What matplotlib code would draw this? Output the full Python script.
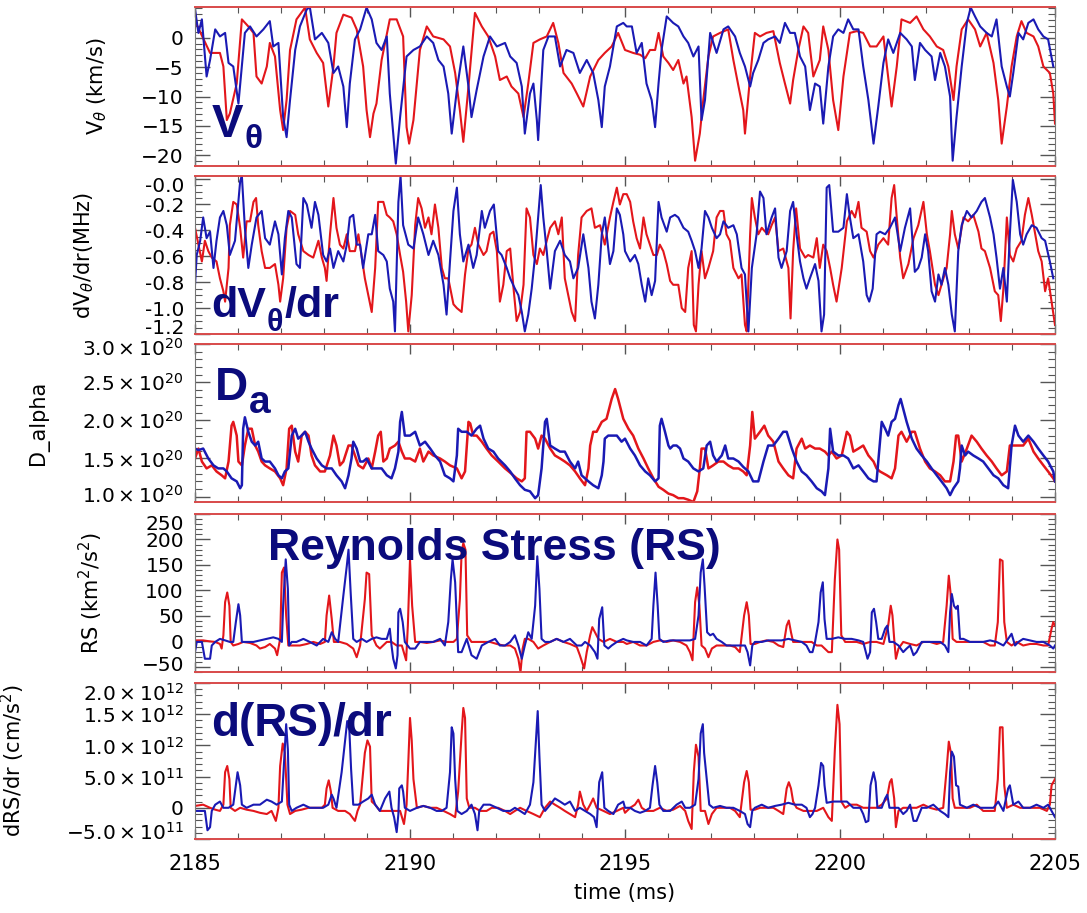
import numpy as np
import matplotlib.pyplot as plt
from matplotlib.ticker import MultipleLocator, FixedLocator, FixedFormatter
from matplotlib.transforms import ScaledTranslation

RED = '#e3161b'
BLUE = '#1a1ab4'
NAVY = '#0b0b7c'

# ---------- poloidal velocity V_theta (km/s) : (time ms, value) ----------
vth_red = [
    (2185.00, 4.2), (2185.04, 2.2), (2185.35, -2.6), (2185.58, -2.6), (2185.66, -4.9), (2185.74, -14.0),
    (2185.81, -12.9), (2185.97, -7.8), (2186.09, 3.1), (2186.24, 1.9), (2186.36, 0.8), (2186.43, -6.6),
    (2186.55, -7.8), (2186.67, -4.9), (2186.74, -0.9), (2186.86, -3.2), (2186.98, -12.3), (2187.05, -15.7),
    (2187.13, -10.6), (2187.21, -2.1), (2187.36, 3.1), (2187.56, 5.1), (2187.67, -0.3), (2187.83, -2.6),
    (2187.98, -4.3), (2188.10, -11.7), (2188.22, -4.9), (2188.29, 0.8), (2188.45, 3.9), (2188.64, 3.4),
    (2188.76, 1.4), (2188.91, -4.9), (2188.99, -12.3), (2189.07, -16.9), (2189.15, -12.9), (2189.22, -11.2),
    (2189.34, -3.8), (2189.53, 3.1), (2189.69, 3.1), (2189.84, 0.2), (2189.92, -15.2), (2189.98, -18.0),
    (2190.08, -14.0), (2190.23, -2.1), (2190.39, 1.9), (2190.54, 0.2), (2190.78, -0.3), (2190.93, -1.5),
    (2191.05, -6.0), (2191.16, -12.3), (2191.24, -17.7), (2191.36, -8.3), (2191.51, 4.2), (2191.67, 1.9),
    (2191.82, 0.2), (2191.98, -3.2), (2192.09, -7.2), (2192.25, -6.6), (2192.36, -8.3), (2192.52, -9.5),
    (2192.64, -13.5), (2192.75, -7.8), (2192.87, -0.9), (2193.02, -0.3), (2193.18, 0.2), (2193.33, 2.5),
    (2193.45, -0.9), (2193.57, -6.0), (2193.76, -7.8), (2193.88, -9.5), (2194.03, -11.7), (2194.19, -6.6),
    (2194.38, -3.8), (2194.53, -2.6), (2194.69, -1.5), (2194.84, 0.8), (2195.00, -2.1), (2195.19, -2.6),
    (2195.35, -2.9), (2195.47, -3.5), (2195.58, -2.1), (2195.70, -2.1), (2195.78, 0.8), (2195.89, -3.2),
    (2196.01, -4.3), (2196.12, -5.5), (2196.24, -3.8), (2196.36, -7.8), (2196.43, -6.6), (2196.55, -13.5),
    (2196.63, -20.9), (2196.74, -16.3), (2196.82, -10.6), (2196.94, -3.2), (2197.05, 0.2), (2197.21, 0.8),
    (2197.40, 1.4), (2197.52, -3.8), (2197.64, -8.3), (2197.75, -12.3), (2197.79, -16.3), (2197.91, -6.6),
    (2198.02, 0.8), (2198.14, 0.2), (2198.29, 0.8), (2198.45, 1.1), (2198.60, -4.3), (2198.72, -7.8),
    (2198.84, -11.2), (2198.91, -7.2), (2199.03, -2.1), (2199.15, 1.9), (2199.26, 0.8), (2199.38, -6.6),
    (2199.53, -3.8), (2199.61, 1.9), (2199.73, -2.1), (2199.84, -10.6), (2199.96, -15.7), (2200.08, -6.6),
    (2200.23, 0.8), (2200.39, 1.1), (2200.54, 0.8), (2200.70, -1.5), (2200.85, -1.5), (2201.01, 0.2),
    (2201.12, -6.6), (2201.20, -11.7), (2201.32, -4.9), (2201.43, 3.1), (2201.63, 2.5), (2201.78, 3.6),
    (2201.94, 1.4), (2202.09, 0.2), (2202.25, -1.5), (2202.40, -2.1), (2202.52, -4.9), (2202.64, -10.6),
    (2202.71, -4.9), (2202.83, 1.4), (2202.98, 3.1), (2203.14, 1.4), (2203.26, -1.5), (2203.41, 0.8),
    (2203.57, -4.3), (2203.68, -10.6), (2203.76, -18.0), (2203.88, -11.7), (2203.99, -4.9), (2204.11, 0.2),
    (2204.22, 2.8), (2204.34, 0.8), (2204.50, 0.2), (2204.61, -1.5), (2204.73, -4.9), (2204.88, -6.0),
    (2204.96, -9.5), (2205.00, -14.6),
]
vth_blue = [
    (2185.00, 4.8), (2185.08, 0.8), (2185.16, 3.1), (2185.27, -6.6), (2185.35, -3.8), (2185.47, 1.4),
    (2185.58, 0.2), (2185.70, 0.8), (2185.78, -4.3), (2185.89, -4.9), (2186.01, -11.2), (2186.16, 0.8),
    (2186.28, 1.9), (2186.43, 0.2), (2186.59, 1.4), (2186.74, 2.8), (2186.82, -1.5), (2186.94, -0.9),
    (2187.05, -13.5), (2187.13, -16.9), (2187.21, -10.6), (2187.33, -2.1), (2187.44, 1.9), (2187.60, 4.8),
    (2187.67, 5.2), (2187.79, -0.3), (2187.95, 0.8), (2188.10, -0.9), (2188.22, -6.0), (2188.33, -4.9),
    (2188.45, -8.3), (2188.53, -15.2), (2188.60, -7.8), (2188.72, -0.3), (2188.84, 1.4), (2188.99, 5.1),
    (2189.11, 3.1), (2189.22, -0.9), (2189.34, -2.1), (2189.46, 0.2), (2189.53, -9.5), (2189.61, -16.3),
    (2189.67, -21.4), (2189.77, -13.5), (2189.92, -3.2), (2190.08, -2.1), (2190.23, -1.5), (2190.39, 0.2),
    (2190.54, -0.9), (2190.66, -3.8), (2190.78, -4.9), (2190.89, -9.5), (2190.97, -16.3), (2191.09, -8.9),
    (2191.24, -1.5), (2191.36, -8.3), (2191.43, -13.5), (2191.55, -8.9), (2191.71, -3.2), (2191.86, 0.2),
    (2192.02, -1.5), (2192.21, -0.9), (2192.33, -3.2), (2192.48, -4.3), (2192.60, -8.3), (2192.67, -16.3),
    (2192.79, -9.5), (2192.87, -7.8), (2192.95, -14.0), (2192.98, -17.4), (2193.10, -2.1), (2193.22, 0.2),
    (2193.37, 0.2), (2193.49, -4.9), (2193.64, -2.1), (2193.80, -2.6), (2193.95, -6.0), (2194.11, -3.8),
    (2194.26, -6.0), (2194.38, -10.6), (2194.46, -15.2), (2194.53, -8.3), (2194.65, -4.9), (2194.81, 1.9),
    (2194.96, 2.5), (2195.04, 1.9), (2195.16, 1.9), (2195.27, -2.6), (2195.39, -0.9), (2195.50, -7.8),
    (2195.62, -10.6), (2195.70, -15.2), (2195.78, -7.8), (2195.85, -2.1), (2195.97, 3.6), (2196.12, 2.5),
    (2196.24, 1.9), (2196.36, 0.2), (2196.47, -0.9), (2196.59, -3.2), (2196.71, -1.5), (2196.78, -14.0),
    (2196.86, -10.6), (2196.98, 0.8), (2197.13, -2.6), (2197.29, 1.4), (2197.40, 1.9), (2197.56, 0.2),
    (2197.67, -2.6), (2197.79, -4.9), (2197.91, -8.3), (2197.98, -6.0), (2198.10, -3.8), (2198.22, -0.9),
    (2198.33, -0.3), (2198.49, 0.2), (2198.60, -0.9), (2198.72, 2.5), (2198.84, 0.8), (2198.95, 0.8),
    (2199.07, -3.2), (2199.19, -4.9), (2199.30, -12.3), (2199.42, -7.8), (2199.53, -8.3), (2199.61, -14.6),
    (2199.73, -4.9), (2199.84, 0.2), (2199.96, 1.4), (2200.08, 0.8), (2200.19, 3.1), (2200.31, 1.4),
    (2200.43, 1.4), (2200.54, -4.9), (2200.66, -10.6), (2200.78, -18.0), (2200.89, -11.7), (2201.01, -4.3),
    (2201.12, -0.3), (2201.24, -2.6), (2201.40, 0.8), (2201.55, -0.3), (2201.67, -1.5), (2201.74, -7.2),
    (2201.86, -0.9), (2201.98, -2.1), (2202.13, -3.2), (2202.21, -7.2), (2202.33, -2.6), (2202.44, -4.9),
    (2202.56, -10.0), (2202.62, -20.9), (2202.71, -13.5), (2202.83, -4.9), (2202.95, 2.5), (2203.04, 5.1),
    (2203.14, 3.6), (2203.26, 1.9), (2203.41, 0.8), (2203.53, 0.2), (2203.64, 3.1), (2203.76, -4.9),
    (2203.88, -8.3), (2203.95, -10.0), (2204.03, -6.0), (2204.15, 0.8), (2204.26, -0.3), (2204.38, 2.5),
    (2204.50, 3.1), (2204.61, 1.4), (2204.73, 0.2), (2204.84, -0.3), (2204.96, -4.9),
]

# ---------- velocity shear dV_theta/dr (MHz) ----------
shear_red = [
    (2185.00, -0.38), (2185.08, -0.51), (2185.16, -0.64), (2185.23, -0.48), (2185.31, -0.56), (2185.39, -0.61),
    (2185.50, -0.64), (2185.58, -0.77), (2185.66, -0.87), (2185.70, -0.95), (2185.78, -0.69), (2185.81, -0.36),
    (2185.89, -0.18), (2185.97, -0.20), (2186.05, -0.38), (2186.12, -0.61), (2186.20, -0.33), (2186.28, -0.33),
    (2186.36, -0.18), (2186.42, -0.15), (2186.47, -0.36), (2186.55, -0.56), (2186.63, -0.69), (2186.74, -0.69),
    (2186.86, -0.66), (2186.94, -0.82), (2186.98, -0.95), (2187.05, -0.77), (2187.13, -0.38), (2187.21, -0.25),
    (2187.33, -0.28), (2187.40, -0.43), (2187.52, -0.56), (2187.64, -0.59), (2187.75, -0.61), (2187.87, -0.48),
    (2187.95, -0.61), (2188.02, -0.69), (2188.06, -0.79), (2188.14, -0.43), (2188.22, -0.15), (2188.29, -0.38),
    (2188.37, -0.51), (2188.45, -0.54), (2188.53, -0.43), (2188.60, -0.56), (2188.72, -0.56), (2188.80, -0.43),
    (2188.88, -0.61), (2188.95, -0.77), (2189.03, -0.90), (2189.11, -1.03), (2189.19, -0.69), (2189.26, -0.18),
    (2189.38, -0.18), (2189.46, -0.28), (2189.53, -0.30), (2189.61, -0.33), (2189.69, -0.43), (2189.77, -0.59),
    (2189.84, -0.72), (2189.91, -0.95), (2189.96, -1.18), (2190.04, -0.90), (2190.12, -0.36), (2190.19, -0.15),
    (2190.27, -0.23), (2190.35, -0.38), (2190.43, -0.30), (2190.50, -0.43), (2190.58, -0.20), (2190.66, -0.38),
    (2190.74, -0.69), (2190.81, -0.77), (2190.89, -0.77), (2191.01, -0.97), (2191.09, -1.00), (2191.20, -1.03),
    (2191.28, -0.74), (2191.36, -0.54), (2191.43, -0.51), (2191.51, -0.38), (2191.59, -0.51), (2191.71, -0.59),
    (2191.78, -0.56), (2191.86, -0.43), (2191.94, -0.41), (2192.02, -0.56), (2192.09, -0.95), (2192.17, -0.82),
    (2192.25, -0.56), (2192.33, -0.54), (2192.40, -0.82), (2192.48, -1.10), (2192.56, -1.03), (2192.64, -0.82),
    (2192.71, -0.23), (2192.79, -0.30), (2192.87, -0.59), (2192.95, -0.66), (2193.02, -0.54), (2193.10, -0.59),
    (2193.18, -0.48), (2193.26, -0.38), (2193.37, -0.33), (2193.45, -0.43), (2193.53, -0.30), (2193.60, -0.77),
    (2193.68, -0.90), (2193.76, -1.03), (2193.84, -1.10), (2193.91, -0.59), (2193.99, -0.30), (2194.11, -0.25),
    (2194.22, -0.23), (2194.30, -0.38), (2194.42, -0.36), (2194.53, -0.51), (2194.65, -0.30), (2194.73, -0.18),
    (2194.81, -0.07), (2194.88, -0.20), (2194.96, -0.12), (2195.04, -0.12), (2195.12, -0.18), (2195.19, -0.33),
    (2195.27, -0.46), (2195.35, -0.54), (2195.43, -0.30), (2195.50, -0.43), (2195.58, -0.51), (2195.66, -0.59),
    (2195.74, -0.59), (2195.81, -0.51), (2195.89, -0.56), (2195.97, -0.66), (2196.05, -0.79), (2196.12, -0.82),
    (2196.24, -0.82), (2196.32, -1.00), (2196.40, -1.03), (2196.47, -0.69), (2196.55, -0.56), (2196.60, -1.13),
    (2196.65, -1.18), (2196.71, -0.82), (2196.78, -0.56), (2196.86, -0.77), (2196.94, -0.69), (2197.05, -0.56),
    (2197.13, -0.30), (2197.21, -0.25), (2197.29, -0.25), (2197.36, -0.43), (2197.44, -0.48), (2197.52, -0.69),
    (2197.64, -0.77), (2197.71, -0.74), (2197.79, -1.13), (2197.83, -1.18), (2197.91, -0.43), (2197.95, -0.15),
    (2198.02, -0.30), (2198.10, -0.43), (2198.18, -0.38), (2198.26, -0.41), (2198.33, -0.43), (2198.41, -0.36),
    (2198.49, -0.30), (2198.57, -0.56), (2198.68, -0.54), (2198.80, -0.69), (2198.85, -1.08), (2198.91, -0.56),
    (2198.98, -0.23), (2199.07, -0.54), (2199.19, -0.61), (2199.26, -0.59), (2199.38, -0.61), (2199.46, -0.46),
    (2199.53, -0.69), (2199.61, -0.51), (2199.69, -0.56), (2199.77, -0.69), (2199.84, -0.82), (2199.92, -0.95),
    (2200.04, -0.69), (2200.16, -0.33), (2200.27, -0.25), (2200.35, -0.30), (2200.43, -0.18), (2200.50, -0.38),
    (2200.62, -0.41), (2200.70, -0.56), (2200.78, -0.61), (2200.89, -0.51), (2201.01, -0.46), (2201.12, -0.51),
    (2201.20, -0.15), (2201.26, -0.05), (2201.32, -0.30), (2201.40, -0.61), (2201.47, -0.77), (2201.59, -0.66),
    (2201.71, -0.46), (2201.82, -0.36), (2201.94, -0.18), (2202.02, -0.43), (2202.09, -0.56), (2202.21, -0.82),
    (2202.29, -0.90), (2202.36, -0.82), (2202.48, -0.69), (2202.56, -0.43), (2202.60, -0.25), (2202.67, -0.43),
    (2202.75, -0.54), (2202.87, -0.30), (2202.98, -0.33), (2203.10, -0.28), (2203.22, -0.41), (2203.29, -0.54),
    (2203.37, -0.56), (2203.49, -0.69), (2203.60, -0.87), (2203.68, -0.90), (2203.74, -1.10), (2203.80, -0.85),
    (2203.88, -0.30), (2203.95, -0.59), (2204.03, -0.64), (2204.11, -0.54), (2204.22, -0.48), (2204.30, -0.28),
    (2204.38, -0.15), (2204.46, -0.28), (2204.53, -0.41), (2204.61, -0.56), (2204.69, -0.64), (2204.77, -0.87),
    (2204.84, -0.77), (2204.92, -0.95), (2205.00, -1.13),
]
shear_blue = [
    (2185.00, -0.82), (2185.04, -0.59), (2185.12, -0.48), (2185.19, -0.30), (2185.27, -0.46), (2185.35, -0.41),
    (2185.43, -0.69), (2185.50, -0.48), (2185.58, -0.30), (2185.66, -0.25), (2185.74, -0.36), (2185.81, -0.59),
    (2185.93, -0.48), (2186.05, -0.02), (2186.09, 0.02), (2186.16, -0.38), (2186.24, -0.69), (2186.32, -0.51),
    (2186.43, -0.30), (2186.55, -0.25), (2186.63, -0.46), (2186.74, -0.51), (2186.86, -0.33), (2186.94, -0.43),
    (2187.02, -0.74), (2187.09, -0.46), (2187.17, -0.25), (2187.25, -0.30), (2187.36, -0.66), (2187.44, -0.69),
    (2187.52, -0.15), (2187.60, -0.20), (2187.71, -0.38), (2187.79, -0.18), (2187.87, -0.28), (2187.98, -0.59),
    (2188.06, -0.64), (2188.14, -0.54), (2188.22, -0.69), (2188.33, -0.56), (2188.45, -0.64), (2188.53, -0.51),
    (2188.60, -0.30), (2188.68, -0.28), (2188.76, -0.51), (2188.84, -0.51), (2188.91, -0.69), (2189.03, -0.43),
    (2189.11, -0.43), (2189.19, -0.28), (2189.26, -0.56), (2189.38, -0.59), (2189.46, -0.64), (2189.53, -0.85),
    (2189.61, -0.95), (2189.65, -1.18), (2189.73, -0.18), (2189.78, 0.02), (2189.84, -0.36), (2189.96, -0.51),
    (2190.08, -0.54), (2190.19, -0.30), (2190.31, -0.43), (2190.43, -0.59), (2190.54, -0.48), (2190.66, -0.59),
    (2190.78, -0.82), (2190.85, -1.05), (2190.93, -0.64), (2191.01, -0.25), (2191.09, -0.07), (2191.16, -0.43),
    (2191.24, -0.64), (2191.36, -0.51), (2191.47, -0.69), (2191.55, -0.59), (2191.67, -0.25), (2191.74, -0.38),
    (2191.86, -0.25), (2191.95, -0.20), (2192.05, -0.56), (2192.13, -0.59), (2192.25, -0.69), (2192.33, -0.77),
    (2192.44, -0.85), (2192.52, -0.90), (2192.60, -1.03), (2192.67, -1.18), (2192.75, -1.05), (2192.83, -0.85),
    (2192.91, -0.59), (2192.98, -0.30), (2193.04, -0.05), (2193.10, -0.30), (2193.18, -0.56), (2193.26, -0.85),
    (2193.37, -0.56), (2193.49, -0.48), (2193.60, -0.59), (2193.72, -0.64), (2193.80, -0.77), (2193.91, -0.69),
    (2194.03, -0.43), (2194.15, -0.69), (2194.22, -0.95), (2194.30, -1.08), (2194.38, -0.82), (2194.46, -0.43),
    (2194.53, -0.30), (2194.65, -0.66), (2194.73, -0.56), (2194.81, -0.23), (2194.88, -0.28), (2194.96, -0.43),
    (2195.00, -0.56), (2195.12, -0.64), (2195.23, -0.59), (2195.31, -0.66), (2195.39, -0.82), (2195.47, -0.95),
    (2195.54, -0.77), (2195.62, -0.90), (2195.70, -0.79), (2195.78, -0.18), (2195.85, -0.30), (2195.97, -0.41),
    (2196.05, -0.30), (2196.16, -0.28), (2196.24, -0.30), (2196.36, -0.38), (2196.47, -0.41), (2196.55, -0.48),
    (2196.63, -0.56), (2196.71, -0.69), (2196.78, -0.54), (2196.86, -0.25), (2196.94, -0.30), (2197.02, -0.38),
    (2197.13, -0.46), (2197.21, -0.43), (2197.29, -0.33), (2197.40, -0.38), (2197.52, -0.36), (2197.60, -0.43),
    (2197.71, -0.69), (2197.79, -0.74), (2197.87, -1.18), (2197.95, -0.69), (2198.06, -0.43), (2198.14, -0.10),
    (2198.22, -0.15), (2198.29, -0.43), (2198.41, -0.30), (2198.49, -0.23), (2198.57, -0.61), (2198.64, -0.69),
    (2198.76, -0.56), (2198.84, -0.25), (2198.91, -0.18), (2198.99, -0.43), (2199.07, -0.64), (2199.15, -0.77),
    (2199.22, -0.85), (2199.30, -0.77), (2199.42, -0.66), (2199.50, -0.79), (2199.57, -1.18), (2199.63, -1.05),
    (2199.69, -0.07), (2199.75, -0.05), (2199.84, -0.41), (2199.96, -0.41), (2200.08, -0.38), (2200.16, -0.12),
    (2200.23, -0.30), (2200.31, -0.46), (2200.43, -0.43), (2200.54, -0.64), (2200.62, -0.90), (2200.68, -0.95),
    (2200.76, -0.85), (2200.85, -0.43), (2200.93, -0.41), (2201.05, -0.43), (2201.16, -0.38), (2201.28, -0.30),
    (2201.40, -0.56), (2201.51, -0.38), (2201.63, -0.23), (2201.74, -0.72), (2201.82, -0.69), (2201.90, -0.61),
    (2201.98, -0.43), (2202.05, -0.56), (2202.13, -0.87), (2202.21, -0.95), (2202.29, -0.74), (2202.36, -0.82),
    (2202.44, -0.69), (2202.52, -0.82), (2202.60, -1.05), (2202.67, -1.18), (2202.75, -0.56), (2202.83, -0.36),
    (2202.95, -0.25), (2203.06, -0.30), (2203.18, -0.25), (2203.29, -0.18), (2203.37, -0.15), (2203.49, -0.30),
    (2203.57, -0.43), (2203.64, -0.61), (2203.72, -0.85), (2203.80, -0.69), (2203.88, -0.95), (2203.95, -0.43),
    (2204.02, -0.01), (2204.11, -0.18), (2204.19, -0.43), (2204.26, -0.51), (2204.34, -0.43), (2204.46, -0.36),
    (2204.57, -0.38), (2204.69, -0.46), (2204.77, -0.48), (2204.88, -0.64), (2204.96, -0.77),
]

# ---------- D_alpha emission (units of 1e20) ----------
dalpha_red = [
    (2185.00, 1.50), (2185.08, 1.63), (2185.16, 1.46), (2185.27, 1.37), (2185.39, 1.41), (2185.50, 1.33),
    (2185.62, 1.28), (2185.70, 1.24), (2185.78, 1.46), (2185.85, 1.93), (2185.89, 1.98), (2185.97, 1.80),
    (2186.01, 1.46), (2186.09, 1.41), (2186.16, 1.67), (2186.24, 1.89), (2186.32, 1.89), (2186.40, 1.67),
    (2186.47, 1.59), (2186.55, 1.46), (2186.63, 1.41), (2186.74, 1.37), (2186.86, 1.33), (2186.98, 1.24),
    (2187.05, 1.15), (2187.13, 1.37), (2187.19, 1.89), (2187.25, 1.93), (2187.33, 1.59), (2187.40, 1.46),
    (2187.48, 1.80), (2187.56, 1.85), (2187.64, 1.80), (2187.71, 1.54), (2187.79, 1.41), (2187.91, 1.33),
    (2188.02, 1.33), (2188.14, 1.54), (2188.22, 1.80), (2188.29, 1.67), (2188.37, 1.41), (2188.45, 1.46),
    (2188.57, 1.67), (2188.64, 1.67), (2188.72, 1.54), (2188.80, 1.41), (2188.91, 1.37), (2189.03, 1.50),
    (2189.11, 1.37), (2189.19, 1.59), (2189.26, 1.80), (2189.32, 1.85), (2189.38, 1.46), (2189.46, 1.50),
    (2189.53, 1.63), (2189.65, 1.67), (2189.73, 1.72), (2189.81, 1.59), (2189.88, 1.50), (2190.00, 1.50),
    (2190.12, 1.46), (2190.23, 1.63), (2190.31, 1.46), (2190.43, 1.59), (2190.54, 1.54), (2190.70, 1.50),
    (2190.81, 1.46), (2190.93, 1.41), (2191.09, 1.37), (2191.20, 1.24), (2191.28, 1.33), (2191.36, 1.98),
    (2191.40, 1.96), (2191.47, 1.80), (2191.55, 1.80), (2191.67, 1.72), (2191.78, 1.63), (2191.90, 1.54),
    (2192.05, 1.46), (2192.21, 1.37), (2192.36, 1.30), (2192.48, 1.24), (2192.60, 1.20), (2192.67, 1.24),
    (2192.71, 1.85), (2192.79, 1.85), (2192.91, 1.76), (2192.98, 1.63), (2193.06, 1.80), (2193.14, 1.76),
    (2193.26, 1.63), (2193.37, 1.54), (2193.49, 1.50), (2193.60, 1.46), (2193.72, 1.41), (2193.84, 1.33),
    (2193.95, 1.24), (2194.07, 1.15), (2194.15, 1.37), (2194.19, 1.67), (2194.26, 1.85), (2194.34, 1.85),
    (2194.46, 1.98), (2194.57, 2.02), (2194.69, 2.28), (2194.77, 2.41), (2194.84, 2.28), (2194.92, 2.11),
    (2194.96, 2.02), (2195.08, 1.89), (2195.19, 1.80), (2195.31, 1.63), (2195.43, 1.50), (2195.54, 1.37),
    (2195.66, 1.24), (2195.78, 1.13), (2195.89, 1.09), (2196.01, 1.04), (2196.12, 1.02), (2196.24, 0.98),
    (2196.36, 0.98), (2196.47, 0.96), (2196.59, 0.93), (2196.68, 1.07), (2196.74, 1.37), (2196.78, 1.63),
    (2196.86, 1.63), (2196.94, 1.37), (2197.05, 1.41), (2197.17, 1.46), (2197.29, 1.46), (2197.40, 1.41),
    (2197.52, 1.37), (2197.64, 1.37), (2197.75, 1.33), (2197.83, 1.28), (2197.91, 1.67), (2197.96, 2.11),
    (2198.02, 1.76), (2198.14, 1.85), (2198.24, 1.93), (2198.33, 1.80), (2198.45, 1.72), (2198.57, 1.46),
    (2198.68, 1.37), (2198.80, 1.28), (2198.91, 1.24), (2198.99, 1.63), (2199.11, 1.76), (2199.19, 1.63),
    (2199.30, 1.67), (2199.42, 1.63), (2199.53, 1.63), (2199.65, 1.59), (2199.73, 1.54), (2199.81, 1.59),
    (2199.92, 1.50), (2200.04, 1.54), (2200.16, 1.85), (2200.23, 1.80), (2200.31, 1.59), (2200.43, 1.63),
    (2200.54, 1.67), (2200.66, 1.54), (2200.78, 1.46), (2200.85, 1.37), (2200.93, 1.33), (2201.09, 1.28),
    (2201.20, 1.24), (2201.28, 1.37), (2201.36, 1.80), (2201.43, 1.85), (2201.55, 1.72), (2201.67, 1.85),
    (2201.74, 1.85), (2201.86, 1.63), (2201.98, 1.46), (2202.09, 1.37), (2202.21, 1.33), (2202.33, 1.28),
    (2202.44, 1.20), (2202.56, 1.20), (2202.64, 1.46), (2202.70, 1.80), (2202.75, 1.80), (2202.83, 1.46),
    (2202.95, 1.63), (2203.06, 1.80), (2203.18, 1.72), (2203.29, 1.63), (2203.41, 1.54), (2203.53, 1.46),
    (2203.64, 1.37), (2203.76, 1.28), (2203.88, 1.33), (2203.95, 1.67), (2204.03, 1.67), (2204.15, 1.67),
    (2204.26, 1.67), (2204.38, 1.76), (2204.50, 1.59), (2204.61, 1.50), (2204.73, 1.41), (2204.84, 1.33),
    (2204.96, 1.24), (2205.00, 1.20),
]
dalpha_blue = [
    (2185.00, 1.63), (2185.08, 1.61), (2185.19, 1.63), (2185.31, 1.50), (2185.43, 1.41), (2185.54, 1.37),
    (2185.66, 1.37), (2185.74, 1.33), (2185.85, 1.24), (2185.97, 1.20), (2186.05, 1.11), (2186.09, 1.15),
    (2186.12, 1.89), (2186.16, 2.04), (2186.24, 1.85), (2186.32, 1.72), (2186.40, 1.67), (2186.47, 1.72),
    (2186.55, 1.50), (2186.63, 1.46), (2186.74, 1.46), (2186.86, 1.37), (2186.94, 1.28), (2187.02, 1.24),
    (2187.09, 1.33), (2187.17, 1.37), (2187.25, 1.80), (2187.33, 1.89), (2187.40, 1.76), (2187.48, 1.80),
    (2187.56, 1.85), (2187.64, 1.72), (2187.71, 1.63), (2187.83, 1.50), (2187.95, 1.41), (2188.06, 1.37),
    (2188.18, 1.37), (2188.29, 1.28), (2188.41, 1.20), (2188.49, 1.11), (2188.57, 1.28), (2188.64, 1.50),
    (2188.68, 1.72), (2188.76, 1.63), (2188.84, 1.46), (2188.91, 1.46), (2188.99, 1.50), (2189.11, 1.37),
    (2189.22, 1.37), (2189.34, 1.37), (2189.46, 1.28), (2189.57, 1.24), (2189.65, 1.37), (2189.73, 1.59),
    (2189.77, 1.98), (2189.81, 2.11), (2189.88, 1.80), (2190.00, 1.80), (2190.12, 1.85), (2190.23, 1.67),
    (2190.35, 1.72), (2190.47, 1.63), (2190.58, 1.54), (2190.70, 1.46), (2190.81, 1.28), (2190.93, 1.24),
    (2191.01, 1.20), (2191.09, 1.54), (2191.12, 1.89), (2191.20, 1.85), (2191.32, 1.85), (2191.43, 1.80),
    (2191.55, 1.89), (2191.63, 1.93), (2191.71, 1.76), (2191.82, 1.63), (2191.94, 1.59), (2192.05, 1.50),
    (2192.21, 1.41), (2192.33, 1.33), (2192.44, 1.24), (2192.56, 1.15), (2192.67, 1.09), (2192.79, 1.07),
    (2192.91, 0.98), (2192.98, 1.02), (2193.06, 1.37), (2193.14, 1.98), (2193.18, 2.02), (2193.26, 1.67),
    (2193.37, 1.63), (2193.49, 1.59), (2193.60, 1.59), (2193.72, 1.46), (2193.84, 1.37), (2193.91, 1.46),
    (2193.99, 1.28), (2194.07, 1.24), (2194.15, 1.20), (2194.26, 1.15), (2194.38, 1.11), (2194.46, 1.28),
    (2194.50, 1.46), (2194.53, 1.76), (2194.61, 1.80), (2194.69, 1.80), (2194.81, 1.80), (2194.92, 1.72),
    (2195.00, 1.76), (2195.12, 1.63), (2195.23, 1.54), (2195.35, 1.41), (2195.47, 1.33), (2195.58, 1.28),
    (2195.70, 1.20), (2195.78, 1.24), (2195.81, 1.93), (2195.85, 2.02), (2195.93, 1.85), (2196.01, 1.67),
    (2196.05, 1.63), (2196.12, 1.67), (2196.20, 1.67), (2196.28, 1.63), (2196.36, 1.50), (2196.47, 1.46),
    (2196.59, 1.37), (2196.71, 1.33), (2196.82, 1.37), (2196.90, 1.67), (2196.98, 1.72), (2197.05, 1.54),
    (2197.13, 1.46), (2197.25, 1.54), (2197.33, 1.67), (2197.40, 1.50), (2197.52, 1.50), (2197.64, 1.46),
    (2197.75, 1.39), (2197.87, 1.33), (2197.98, 1.20), (2198.10, 1.20), (2198.22, 1.46), (2198.33, 1.67),
    (2198.45, 1.67), (2198.57, 1.76), (2198.68, 1.85), (2198.76, 1.85), (2198.88, 1.63), (2198.99, 1.46),
    (2199.11, 1.33), (2199.22, 1.28), (2199.34, 1.20), (2199.46, 1.11), (2199.57, 1.07), (2199.65, 1.02),
    (2199.73, 1.37), (2199.77, 1.89), (2199.84, 1.59), (2199.96, 1.54), (2200.08, 1.54), (2200.19, 1.50),
    (2200.31, 1.37), (2200.43, 1.41), (2200.54, 1.33), (2200.66, 1.24), (2200.78, 1.20), (2200.85, 1.20),
    (2200.93, 1.72), (2200.97, 1.98), (2201.05, 1.89), (2201.12, 1.80), (2201.20, 1.98), (2201.28, 2.02),
    (2201.36, 2.20), (2201.41, 2.28), (2201.47, 2.15), (2201.55, 1.98), (2201.67, 1.76), (2201.78, 1.63),
    (2201.90, 1.54), (2202.02, 1.46), (2202.13, 1.37), (2202.25, 1.28), (2202.36, 1.20), (2202.48, 1.11),
    (2202.56, 1.02), (2202.64, 1.11), (2202.75, 1.20), (2202.79, 1.37), (2202.83, 1.67), (2202.91, 1.54),
    (2202.98, 1.59), (2203.10, 1.54), (2203.22, 1.50), (2203.33, 1.46), (2203.45, 1.37), (2203.57, 1.28),
    (2203.68, 1.24), (2203.80, 1.15), (2203.91, 1.11), (2203.99, 1.67), (2204.07, 1.93), (2204.15, 1.80),
    (2204.26, 1.72), (2204.38, 1.80), (2204.50, 1.72), (2204.61, 1.63), (2204.73, 1.54), (2204.84, 1.46),
    (2204.96, 1.33), (2205.00, 1.20),
]

# ---------- Reynolds stress RS (km^2/s^2) ----------
rs_red = [
    (2185.00, 2), (2185.19, 2), (2185.35, 0), (2185.47, -1), (2185.58, -5), (2185.62, -14), (2185.66, 12),
    (2185.70, 77), (2185.75, 96), (2185.80, 70), (2185.83, -1), (2185.89, -8), (2186.01, -5), (2186.12, -1),
    (2186.28, -3), (2186.43, -8), (2186.51, -14), (2186.63, -11), (2186.74, -5), (2186.86, -14), (2186.91, -27),
    (2186.98, 5), (2187.02, 135), (2187.07, 145), (2187.12, 51), (2187.17, -8), (2187.29, -8), (2187.44, -8),
    (2187.60, -5), (2187.75, -1), (2187.91, -5), (2188.02, -1), (2188.06, 51), (2188.12, 90), (2188.18, 44),
    (2188.23, -1), (2188.37, -1), (2188.53, -5), (2188.68, -14), (2188.76, -31), (2188.84, -8), (2188.95, 83),
    (2188.99, 135), (2189.05, 132), (2189.11, 12), (2189.15, 5), (2189.22, -8), (2189.30, -14), (2189.46, -1),
    (2189.57, -1), (2189.69, -8), (2189.81, -8), (2189.91, -37), (2189.95, 31), (2190.00, 161), (2190.05, 70),
    (2190.12, -1), (2190.23, -1), (2190.39, -3), (2190.54, -1), (2190.70, 2), (2190.85, -1), (2191.01, -1),
    (2191.09, 5), (2191.16, 83), (2191.20, 174), (2191.24, 193), (2191.29, 180), (2191.33, 12), (2191.43, -1),
    (2191.55, -1), (2191.71, -1), (2191.86, -1), (2192.02, -5), (2192.17, -8), (2192.33, -8), (2192.44, -14),
    (2192.52, -34), (2192.57, -60), (2192.62, -14), (2192.67, 5), (2192.75, 5), (2192.87, -1), (2192.98, -14),
    (2193.10, -8), (2193.26, -1), (2193.41, 5), (2193.57, -1), (2193.72, -5), (2193.88, -11), (2193.95, -27),
    (2194.05, -53), (2194.11, -21), (2194.19, 12), (2194.24, 28), (2194.30, 18), (2194.38, 5), (2194.50, -1),
    (2194.65, 5), (2194.81, -1), (2194.96, -1), (2195.04, -5), (2195.19, -1), (2195.35, -8), (2195.50, -8),
    (2195.66, -1), (2195.81, 2), (2195.97, -1), (2196.12, 2), (2196.28, -1), (2196.43, -8), (2196.51, -21),
    (2196.57, -37), (2196.63, 77), (2196.68, 106), (2196.73, 70), (2196.78, -8), (2196.86, -14), (2196.94, -31),
    (2197.02, -14), (2197.13, -8), (2197.29, -8), (2197.44, -8), (2197.56, -11), (2197.67, -21), (2197.77, 51),
    (2197.83, 77), (2197.88, 51), (2197.92, -5), (2198.02, -5), (2198.14, -1), (2198.29, 2), (2198.45, -1),
    (2198.57, -8), (2198.68, -11), (2198.76, 31), (2198.81, 41), (2198.86, 18), (2198.91, -1), (2199.03, -1),
    (2199.19, -1), (2199.34, -1), (2199.46, -8), (2199.57, -8), (2199.73, -21), (2199.81, -21), (2199.88, 122),
    (2199.94, 200), (2199.98, 180), (2200.03, 12), (2200.12, -1), (2200.23, -1), (2200.39, -1), (2200.54, -5),
    (2200.70, -1), (2200.85, -1), (2201.01, -5), (2201.12, 31), (2201.18, 70), (2201.22, 51), (2201.26, 5),
    (2201.30, -34), (2201.36, -14), (2201.47, -1), (2201.63, -5), (2201.78, -8), (2201.94, -1), (2202.09, -1),
    (2202.25, -5), (2202.40, -1), (2202.48, 70), (2202.53, 129), (2202.57, 96), (2202.62, 5), (2202.71, -1),
    (2202.87, -1), (2203.02, -1), (2203.18, -1), (2203.33, -1), (2203.49, -8), (2203.60, -8), (2203.67, 38),
    (2203.72, 161), (2203.78, 158), (2203.82, 38), (2203.88, -1), (2203.99, -8), (2204.11, -1), (2204.26, -8),
    (2204.42, -5), (2204.57, -5), (2204.73, -8), (2204.84, -8), (2204.92, 25), (2204.96, 38), (2205.00, 31),
]
rs_blue = [
    (2185.00, -21), (2185.04, -1), (2185.16, -1), (2185.23, -34), (2185.35, -34), (2185.39, -8), (2185.47, -1),
    (2185.58, 5), (2185.70, 2), (2185.81, -1), (2185.89, -1), (2185.95, 38), (2186.01, 73), (2186.05, 51),
    (2186.09, -1), (2186.20, -1), (2186.36, -1), (2186.51, 2), (2186.67, 5), (2186.82, 8), (2186.94, 5),
    (2187.02, -1), (2187.05, 70), (2187.11, 161), (2187.16, 103), (2187.19, -8), (2187.25, -1), (2187.36, -1),
    (2187.52, 5), (2187.67, -1), (2187.83, -8), (2187.98, 5), (2188.10, -1), (2188.18, 18), (2188.26, 5),
    (2188.33, -1), (2188.45, 90), (2188.53, 148), (2188.57, 180), (2188.62, 96), (2188.68, 5), (2188.76, -1),
    (2188.88, 5), (2188.99, -1), (2189.11, 5), (2189.22, 8), (2189.34, 5), (2189.46, 5), (2189.53, 25),
    (2189.57, -8), (2189.61, -34), (2189.67, -53), (2189.71, -27), (2189.73, 57), (2189.77, 64), (2189.83, 38),
    (2189.88, -1), (2190.00, -14), (2190.12, -14), (2190.23, -1), (2190.39, -1), (2190.54, -1), (2190.70, 5),
    (2190.81, -8), (2190.89, 38), (2190.95, 122), (2190.99, 161), (2191.05, 116), (2191.12, -21), (2191.20, -21),
    (2191.32, 5), (2191.43, -27), (2191.55, -34), (2191.67, -8), (2191.82, -1), (2191.98, 5), (2192.09, -8),
    (2192.21, -8), (2192.33, -1), (2192.44, 12), (2192.52, -8), (2192.60, -34), (2192.67, -8), (2192.75, 18),
    (2192.83, 5), (2192.91, 70), (2192.96, 167), (2193.01, 103), (2193.06, 5), (2193.14, -1), (2193.26, -1),
    (2193.41, 5), (2193.57, -1), (2193.72, 5), (2193.88, -8), (2193.99, -8), (2194.07, -1), (2194.19, -8),
    (2194.30, -21), (2194.36, -34), (2194.40, 44), (2194.47, 67), (2194.52, -8), (2194.61, -14), (2194.69, -8),
    (2194.81, -1), (2194.96, 5), (2195.04, 2), (2195.19, -1), (2195.35, -1), (2195.50, -8), (2195.62, 5),
    (2195.66, 70), (2195.71, 135), (2195.76, 70), (2195.80, 5), (2195.89, -1), (2196.05, 2), (2196.20, 2),
    (2196.36, 2), (2196.51, 2), (2196.63, 5), (2196.71, 51), (2196.76, 135), (2196.81, 161), (2196.85, 109),
    (2196.91, 18), (2196.98, 12), (2197.05, 15), (2197.13, 5), (2197.25, -1), (2197.36, -8), (2197.52, -8),
    (2197.67, -8), (2197.79, -8), (2197.85, -21), (2197.91, -47), (2197.96, -8), (2198.02, -1), (2198.18, -1),
    (2198.33, 2), (2198.49, 2), (2198.64, 2), (2198.80, 5), (2198.95, 2), (2199.11, -1), (2199.22, -8),
    (2199.30, -21), (2199.36, -21), (2199.42, -1), (2199.50, 38), (2199.55, 96), (2199.60, 116), (2199.64, 44),
    (2199.69, 5), (2199.81, 5), (2199.96, 8), (2200.12, 5), (2200.27, 5), (2200.43, 2), (2200.54, -1),
    (2200.60, -21), (2200.64, -34), (2200.70, -21), (2200.74, 57), (2200.79, 64), (2200.84, 38), (2200.89, 5),
    (2200.97, 5), (2201.05, 25), (2201.10, 31), (2201.15, -1), (2201.24, -1), (2201.36, -8), (2201.47, -21),
    (2201.55, -14), (2201.63, -8), (2201.71, -27), (2201.78, -21), (2201.90, -1), (2202.02, -1), (2202.17, -1),
    (2202.33, -1), (2202.44, -8), (2202.52, -21), (2202.56, 57), (2202.60, 93), (2202.65, 70), (2202.70, 64),
    (2202.74, 70), (2202.79, 5), (2202.87, 5), (2203.02, -1), (2203.18, -1), (2203.33, -1), (2203.49, 2),
    (2203.64, -1), (2203.80, -8), (2203.91, 5), (2203.99, 15), (2204.07, -8), (2204.15, -1), (2204.26, 5),
    (2204.42, 2), (2204.57, -1), (2204.73, -1), (2204.88, -8), (2204.96, -14), (2205.00, -8),
]

# ---------- radial derivative d(RS)/dr (units of 1e11 cm/s^2) ----------
drs_red = [
    (2185.00, 0.3), (2185.19, 0.5), (2185.35, 0.0), (2185.47, -0.3), (2185.58, -0.5), (2185.66, 0.5),
    (2185.70, 5.7), (2185.75, 6.7), (2185.80, 4.6), (2185.83, 0.0), (2185.93, -0.5), (2186.05, 0.0),
    (2186.20, -0.3), (2186.36, -0.5), (2186.51, -0.8), (2186.67, -1.0), (2186.78, -0.5), (2186.88, -2.1),
    (2186.94, 0.0), (2186.98, 6.7), (2187.04, 10.3), (2187.09, 8.8), (2187.15, 0.5), (2187.21, -1.0),
    (2187.33, -0.5), (2187.48, -0.3), (2187.64, 0.0), (2187.79, 0.0), (2187.95, 0.0), (2188.02, 0.5),
    (2188.06, 3.1), (2188.11, 4.4), (2188.16, 2.6), (2188.20, 0.0), (2188.33, -0.5), (2188.49, -0.5),
    (2188.60, -1.0), (2188.72, -2.1), (2188.78, -0.5), (2188.84, 0.5), (2188.95, 8.8), (2189.01, 10.8),
    (2189.07, 9.8), (2189.11, 1.0), (2189.19, 0.5), (2189.30, -0.5), (2189.46, -0.5), (2189.61, -0.5),
    (2189.77, -0.5), (2189.86, -2.6), (2189.92, 0.5), (2189.96, 7.2), (2190.00, 14.4), (2190.04, 10.8),
    (2190.08, 4.6), (2190.16, 0.0), (2190.31, 0.3), (2190.47, 0.0), (2190.62, 0.0), (2190.78, -0.5),
    (2190.93, -1.0), (2191.05, -1.5), (2191.12, 2.6), (2191.20, 11.9), (2191.24, 16.0), (2191.28, 14.4),
    (2191.32, 1.5), (2191.38, 0.0), (2191.51, 0.0), (2191.63, -0.5), (2191.78, -0.5), (2191.90, 0.0),
    (2192.05, 0.0), (2192.21, -0.5), (2192.33, -1.0), (2192.44, -0.5), (2192.56, 0.0), (2192.71, -0.5),
    (2192.87, -1.0), (2193.02, -1.5), (2193.14, 0.0), (2193.26, 1.0), (2193.37, 0.5), (2193.49, 0.0),
    (2193.60, -0.5), (2193.72, -1.0), (2193.84, -1.5), (2193.91, 0.5), (2193.95, 2.6), (2194.03, 0.5),
    (2194.11, -0.5), (2194.19, 0.5), (2194.26, 1.5), (2194.34, 0.0), (2194.50, -0.5), (2194.65, -1.0),
    (2194.81, -0.5), (2194.96, 0.0), (2195.00, -0.8), (2195.12, 0.0), (2195.23, 0.5), (2195.31, 1.3),
    (2195.39, 0.0), (2195.50, -0.5), (2195.66, -0.5), (2195.81, 0.0), (2195.97, -0.5), (2196.12, -0.3),
    (2196.28, 0.3), (2196.40, -0.5), (2196.47, -2.1), (2196.55, -3.4), (2196.60, 5.7), (2196.65, 10.1),
    (2196.71, 8.2), (2196.76, -0.5), (2196.86, -0.5), (2196.94, -2.6), (2197.02, -1.0), (2197.13, 0.0),
    (2197.29, 0.0), (2197.44, 0.0), (2197.56, -0.5), (2197.67, -1.5), (2197.77, 4.1), (2197.83, 5.9),
    (2197.88, 4.1), (2197.92, -0.3), (2198.02, -0.3), (2198.14, 0.0), (2198.29, 0.0), (2198.45, 0.0),
    (2198.57, -0.5), (2198.68, -1.0), (2198.76, 3.1), (2198.81, 4.1), (2198.86, 3.1), (2198.91, 1.0),
    (2198.99, 0.0), (2199.15, -0.5), (2199.30, -0.5), (2199.46, -0.5), (2199.61, 0.0), (2199.73, -1.5),
    (2199.81, -2.1), (2199.88, 9.3), (2199.94, 16.5), (2199.99, 13.4), (2200.03, 1.0), (2200.12, 0.0),
    (2200.23, 0.5), (2200.39, 0.5), (2200.54, 0.0), (2200.70, 0.0), (2200.85, 0.0), (2200.97, 0.5),
    (2201.09, 1.5), (2201.16, 4.1), (2201.20, 4.6), (2201.26, 1.5), (2201.30, -3.1), (2201.36, -0.5),
    (2201.47, 0.0), (2201.63, 0.0), (2201.78, 0.0), (2201.94, 0.5), (2202.09, 0.0), (2202.25, -0.3),
    (2202.40, 0.0), (2202.48, 6.2), (2202.53, 10.6), (2202.58, 8.8), (2202.62, 1.5), (2202.67, 0.0),
    (2202.87, 0.0), (2203.02, 0.0), (2203.18, 0.5), (2203.33, -0.5), (2203.49, -0.5), (2203.60, -0.5),
    (2203.67, 4.6), (2203.72, 12.9), (2203.78, 12.9), (2203.82, 3.6), (2203.88, 0.0), (2204.03, 0.5),
    (2204.19, 0.0), (2204.34, 0.0), (2204.50, 0.0), (2204.65, 0.0), (2204.81, -0.5), (2204.88, 0.5),
    (2204.92, 3.6), (2205.00, 4.6),
]
drs_blue = [
    (2185.00, -0.5), (2185.12, -0.5), (2185.23, -0.5), (2185.29, -3.6), (2185.35, -3.1), (2185.39, -0.5),
    (2185.47, 0.5), (2185.58, 1.0), (2185.66, 0.0), (2185.78, 0.0), (2185.89, 0.5), (2185.95, 3.6),
    (2185.99, 5.7), (2186.05, 3.6), (2186.09, 0.5), (2186.20, 0.0), (2186.36, 0.5), (2186.51, 0.5),
    (2186.67, 1.3), (2186.78, 1.0), (2186.90, 0.5), (2187.02, 1.0), (2187.07, 7.2), (2187.12, 13.4),
    (2187.16, 9.3), (2187.19, 0.5), (2187.25, -0.5), (2187.36, 0.0), (2187.52, 0.5), (2187.67, 0.0),
    (2187.83, 0.0), (2187.98, 0.0), (2188.10, 0.5), (2188.18, 2.1), (2188.22, 1.5), (2188.29, 0.0),
    (2188.41, 5.7), (2188.49, 10.8), (2188.54, 13.9), (2188.59, 12.4), (2188.63, 6.2), (2188.68, 0.5),
    (2188.80, 0.5), (2188.91, 1.0), (2189.03, 1.5), (2189.11, 2.1), (2189.19, 0.5), (2189.30, -0.5),
    (2189.42, 1.5), (2189.52, 2.6), (2189.57, 0.0), (2189.63, -1.5), (2189.69, -3.9), (2189.73, -1.0),
    (2189.75, 3.1), (2189.81, 3.6), (2189.84, 2.6), (2189.88, 0.0), (2190.00, -0.5), (2190.16, 0.0),
    (2190.31, 0.3), (2190.47, 0.0), (2190.62, -0.5), (2190.74, -0.5), (2190.85, 0.0), (2190.93, 5.7),
    (2190.97, 12.9), (2191.01, 11.9), (2191.05, 4.6), (2191.10, -0.5), (2191.20, -1.0), (2191.32, -0.5),
    (2191.43, 0.5), (2191.51, -1.0), (2191.57, -3.6), (2191.61, -0.5), (2191.71, 0.5), (2191.86, 0.5),
    (2192.02, 0.0), (2192.17, -0.5), (2192.33, -0.5), (2192.44, 0.0), (2192.56, -0.5), (2192.67, -1.0),
    (2192.79, 0.5), (2192.87, 4.1), (2192.92, 9.8), (2192.97, 15.5), (2193.01, 8.2), (2193.06, 0.5),
    (2193.14, -0.5), (2193.26, 0.5), (2193.37, 1.5), (2193.49, 1.0), (2193.60, 0.5), (2193.72, 1.0),
    (2193.84, -0.5), (2193.95, 0.0), (2194.07, -0.5), (2194.19, -1.0), (2194.28, -1.5), (2194.34, -3.1),
    (2194.40, 4.1), (2194.47, 5.7), (2194.52, 0.0), (2194.61, -0.5), (2194.73, -1.0), (2194.84, 0.5),
    (2194.96, 1.0), (2195.00, 0.0), (2195.12, 0.0), (2195.23, -0.5), (2195.35, -0.8), (2195.47, -0.5),
    (2195.58, 0.0), (2195.64, 3.6), (2195.70, 6.7), (2195.75, 4.1), (2195.80, 0.5), (2195.89, -0.5),
    (2196.05, -0.5), (2196.20, 0.5), (2196.32, 1.0), (2196.40, 0.0), (2196.51, 0.0), (2196.63, 0.5),
    (2196.71, 4.6), (2196.76, 11.9), (2196.81, 13.4), (2196.84, 8.8), (2196.90, 4.6), (2196.96, 0.5),
    (2197.05, 0.0), (2197.21, 0.3), (2197.36, 0.0), (2197.52, 0.0), (2197.67, -0.5), (2197.79, -1.0),
    (2197.85, -2.6), (2197.91, -3.1), (2197.96, -0.5), (2198.02, 0.0), (2198.18, 0.5), (2198.33, 0.0),
    (2198.49, 0.3), (2198.64, 0.5), (2198.80, 0.8), (2198.95, 0.5), (2199.11, 0.5), (2199.22, 0.0),
    (2199.30, -1.5), (2199.36, -1.0), (2199.42, 0.0), (2199.50, 3.6), (2199.56, 7.2), (2199.61, 6.7),
    (2199.64, 3.6), (2199.69, 0.8), (2199.84, 1.0), (2200.00, 1.0), (2200.16, 1.0), (2200.31, 0.0),
    (2200.47, 0.0), (2200.54, -1.0), (2200.60, -2.3), (2200.66, -2.1), (2200.71, 3.6), (2200.78, 5.7),
    (2200.83, 4.1), (2200.87, 0.0), (2200.97, 0.0), (2201.05, 1.5), (2201.10, 2.1), (2201.15, 0.0),
    (2201.24, 0.0), (2201.36, 0.0), (2201.47, -1.0), (2201.55, -0.5), (2201.63, 0.5), (2201.71, -2.1),
    (2201.78, -2.1), (2201.90, 0.0), (2202.02, 0.0), (2202.17, 0.5), (2202.33, -0.5), (2202.44, -1.0),
    (2202.52, -1.5), (2202.56, 5.7), (2202.60, 9.0), (2202.65, 8.2), (2202.70, 3.6), (2202.75, 3.4),
    (2202.79, 0.5), (2202.95, 0.0), (2203.10, 0.5), (2203.26, 0.0), (2203.41, 0.0), (2203.57, 0.0),
    (2203.68, 1.0), (2203.80, -0.5), (2203.91, 3.1), (2203.95, 3.6), (2204.03, 0.5), (2204.15, 1.0),
    (2204.26, 0.0), (2204.42, 0.0), (2204.57, 0.5), (2204.73, 0.0), (2204.84, 0.5), (2204.96, -1.0),
    (2205.00, -1.5),
]

# axis settings per panel
vth_ticks = [-20, -15, -10, -5, 0]
shear_ticks = [-1.2, -1.0, -0.8, -0.6, -0.4, -0.2, 0.0]
shear_labels = ['-1.2', '-1.0', '-0.8', '-0.6', '-0.4', '-0.2', '-0.0']
dalpha_ticks = [1.0, 1.5, 2.0, 2.5, 3.0]
dalpha_labels = [r'$1.0\times10^{20}$', r'$1.5\times10^{20}$', r'$2.0\times10^{20}$',
                 r'$2.5\times10^{20}$', r'$3.0\times10^{20}$']
rs_ticks = [-50, 0, 50, 100, 150, 200, 250]
drs_ticks = [-5, 0, 5, 10, 15, 20]
drs_labels = [r'$-5.0\times10^{11}$', '0', r'$5.0\times10^{11}$', r'$1.0\times10^{12}$',
              r'$1.5\times10^{12}$', r'$2.0\times10^{12}$']

plt.rcParams['mathtext.fontset'] = 'dejavusans'
plt.rcParams['font.family'] = 'DejaVu Sans'

W, H = 1087, 913
fig = plt.figure(figsize=(W / 100, H / 100), dpi=100)
left, right = 195, 1055
rows = [(7, 166), (176, 334), (344, 502), (514, 672), (683, 839)]
axes = []
for top, bot in rows:
    ax = fig.add_axes([left / W, 1 - bot / H, (right - left) / W, (bot - top) / H])
    axes.append(ax)


def series(pairs):
    arr = np.array(pairs, dtype=float)
    return arr[:, 0], arr[:, 1]


panels = [
    (vth_red, vth_blue, (-21.8, 5.2), 1.5),
    (shear_red, shear_blue, (-1.2, 0.02), 1.5),
    (dalpha_red, dalpha_blue, (0.93, 3.0), 1.8),
    (rs_red, rs_blue, (-60, 250), 1.5),
    (drs_red, drs_blue, (-5, 20), 1.5),
]
for ax, (red, blue, ylim, lw) in zip(axes, panels):
    t, v = series(red)
    ax.plot(t, v, color=RED, lw=lw)
    t, v = series(blue)
    ax.plot(t, v, color=BLUE, lw=lw)
    ax.set_xlim(2185, 2205)
    ax.set_ylim(*ylim)
    ax.xaxis.set_major_locator(MultipleLocator(5))
    ax.xaxis.set_minor_locator(MultipleLocator(1))
    ax.tick_params(which='both', direction='in', top=True, right=True,
                   color='#555555', labelsize=14.5, pad=8)
    ax.tick_params(axis='y', which='major', length=11, width=1.0)
    ax.tick_params(axis='y', which='minor', length=5, width=0.8)
    ax.tick_params(axis='x', which='major', length=7, width=1.0)
    ax.tick_params(axis='x', which='minor', length=4, width=0.8)
    for side in ('left', 'right'):
        ax.spines[side].set_color('#777777')
    for side in ('top', 'bottom'):
        ax.spines[side].set_color('#d84a4a')
        ax.spines[side].set_linewidth(1.4)
    if ax is not axes[-1]:
        ax.tick_params(labelbottom=False)

a1, a2, a3, a4, a5 = axes
a1.yaxis.set_major_locator(FixedLocator(vth_ticks))
a1.yaxis.set_minor_locator(MultipleLocator(1))
a2.yaxis.set_major_locator(FixedLocator(shear_ticks))
a2.yaxis.set_major_formatter(FixedFormatter(shear_labels))
a2.yaxis.set_minor_locator(MultipleLocator(0.05))
a3.yaxis.set_major_locator(FixedLocator(dalpha_ticks))
a3.yaxis.set_major_formatter(FixedFormatter(dalpha_labels))
a3.yaxis.set_minor_locator(MultipleLocator(0.1))
a4.yaxis.set_major_locator(FixedLocator(rs_ticks))
a4.yaxis.set_minor_locator(MultipleLocator(10))
a5.yaxis.set_major_locator(FixedLocator(drs_ticks))
a5.yaxis.set_major_formatter(FixedFormatter(drs_labels))
a5.yaxis.set_minor_locator(MultipleLocator(1))
a5.tick_params(axis='x', pad=11, labelsize=15)


# edge labels are pulled inside their own panel (positive = down, in pixels)
def nudge(ax, index, dy_px):
    label = ax.get_yticklabels()[index]
    label.set_transform(label.get_transform()
                        + ScaledTranslation(0, -dy_px / 100, fig.dpi_scale_trans))


nudge(a2, 0, -7)
nudge(a2, -1, 6)
nudge(a3, -1, 3)
nudge(a3, 0, -3)
nudge(a4, -1, 8)
nudge(a4, 0, -3)
nudge(a5, -1, 9)
nudge(a5, 0, -8)

ylabels = [
    (a1, r'V$_\theta$ (km/s)', -0.10),
    (a2, r'dV$_\theta$/dr(MHz)', -0.115),
    (a3, 'D_alpha', -0.17),
    (a4, r'RS (km$^2$/s$^2$)', -0.105),
    (a5, r'dRS/dr (cm/s$^2$)', -0.195),
]
for ax, text, xpos in ylabels:
    ax.set_ylabel(text, fontsize=15)
    ax.yaxis.set_label_coords(xpos, 0.5)
a5.set_xlabel('time (ms)', fontsize=15, labelpad=6)

# big panel titles, chained piece by piece so subscripts sit right after the base text
renderer = fig.canvas.get_renderer()


def title(pieces, x0, base):
    x = x0
    for s, size, dy in pieces:
        txt = fig.text(x / W, 1 - (base + dy) / H, s, fontsize=size, fontweight='bold',
                       color=NAVY, family='Liberation Sans', ha='left', va='baseline')
        x = txt.get_window_extent(renderer).x1 + 1


title([('V', 34, 0), ('θ', 24, 11)], 212, 137)
title([('dV', 31, 0), ('θ', 22, 14), ('/dr', 31, 0)], 211, 317)
title([('D', 33, 0), ('a', 28, 13)], 215, 400)
title([('Reynolds Stress (RS)', 32, 0)], 268, 560)
title([('d(RS)/dr', 33, 0)], 211, 736)

fig.savefig('out.png', dpi=100)
